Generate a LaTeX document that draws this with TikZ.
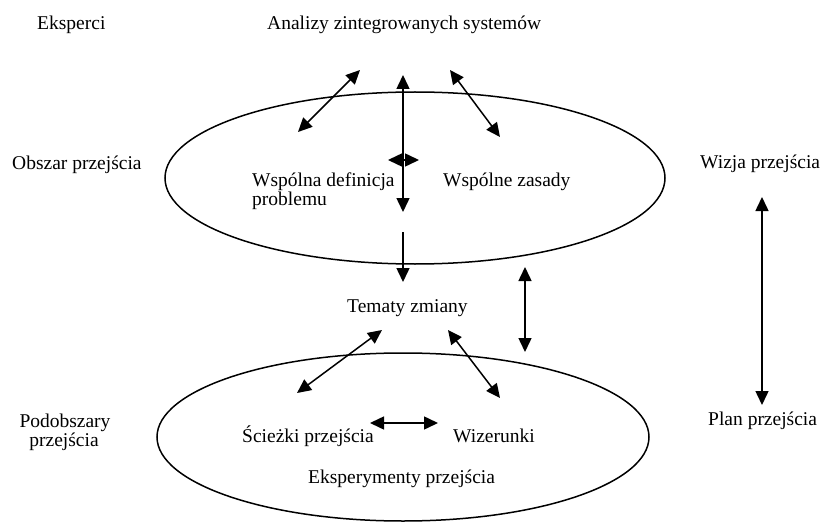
\documentclass[tikz,border=0pt]{standalone}
\usepackage{fontspec}
\setmainfont{Liberation Serif}
\usetikzlibrary{arrows.meta}
\begin{document}
\begin{tikzpicture}[x=1pt,y=-1pt,
  lbl/.style={anchor=base west,inner sep=0pt,font=\fontsize{19.5}{22}\selectfont},
  conn/.style={line width=1.5pt,{Triangle[length=14pt,width=13pt]}-{Triangle[length=14pt,width=13pt]}},
  oneway/.style={line width=1.5pt,-{Triangle[length=14pt,width=13pt]}},
  oval/.style={draw,line width=1.5pt}]
\useasboundingbox (0,0) rectangle (825,524);
% ellipses
\draw[oval] (415,178) ellipse [x radius=250,y radius=86];
\draw[oval] (403,437) ellipse [x radius=246,y radius=84];
% labels
\node[lbl] (eks) at (37,30) {Eksperci};
\node[lbl] (ana) at (267,30) {Analizy zintegrowanych systemów};
\node[lbl] (obs) at (12,170) {Obszar przejścia};
\node[lbl] (wiz) at (700,168) {Wizja przejścia};
\node[lbl] (wdef) at (252,186) {Wspólna definicja};
\node[lbl] (wdef2) at (252,205) {problemu};
\node[lbl] (wzas) at (443,186) {Wspólne zasady};
\node[lbl] (tem) at (347,312) {Tematy zmiany};
\node[lbl,anchor=base] (pod) at (65,427) {Podobszary};
\node[lbl,anchor=base] (pod2) at (64,446) {przejścia};
\node[lbl] (sci) at (242,442) {Ścieżki przejścia};
\node[lbl] (wize) at (453,442) {Wizerunki};
\node[lbl] (eksp) at (308,483) {Eksperymenty przejścia};
\node[lbl] (plan) at (708,425) {Plan przejścia};
% arrow end points
\coordinate (a1s) at (360,70);  \coordinate (a1e) at (298,132);
\coordinate (a2s) at (403,75);  \coordinate (a2e) at (403,212);
\coordinate (a3s) at (450,70);  \coordinate (a3e) at (500,137);
\coordinate (a4s) at (388,160); \coordinate (a4e) at (419,160);
\coordinate (a5s) at (403,232); \coordinate (a5e) at (403,282);
\coordinate (a6s) at (525,267); \coordinate (a6e) at (525,352);
\coordinate (a7s) at (762,197); \coordinate (a7e) at (762,405);
\coordinate (a8s) at (382,330); \coordinate (a8e) at (297,393);
\coordinate (a9s) at (448,330); \coordinate (a9e) at (500,398);
\coordinate (a10s) at (370,423); \coordinate (a10e) at (438,423);
\draw[conn] (a1s) -- (a1e);
\draw[conn] (a2s) -- (a2e);
\draw[conn] (a3s) -- (a3e);
\draw[conn] (a4s) -- (a4e);
\draw[oneway] (a5s) -- (a5e);
\draw[conn] (a6s) -- (a6e);
\draw[conn] (a7s) -- (a7e);
\draw[conn] (a8s) -- (a8e);
\draw[conn] (a9s) -- (a9e);
\draw[conn] (a10s) -- (a10e);
\end{tikzpicture}
\end{document}
